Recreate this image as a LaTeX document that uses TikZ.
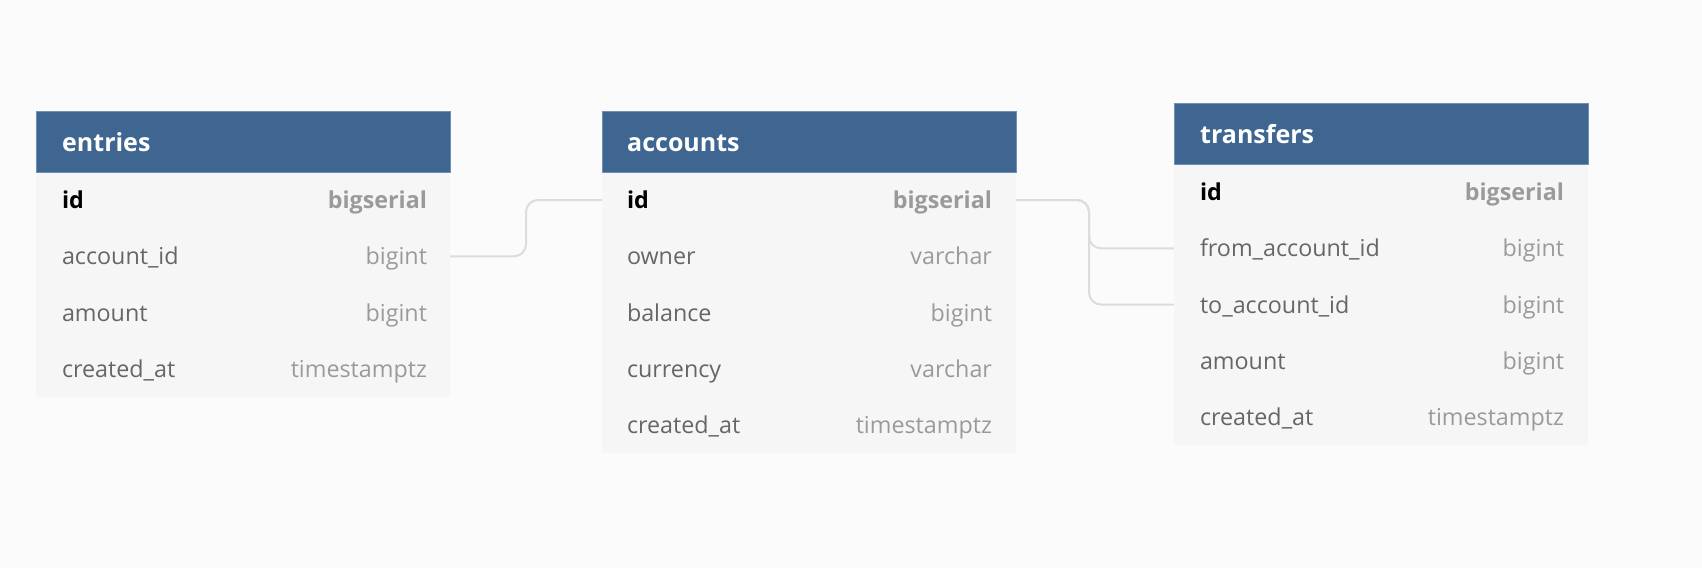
\documentclass[tikz,border=0pt]{standalone}
\usepackage{fontspec}
\setmainfont{Open Sans}
\definecolor{bgc}{HTML}{FBFBFB}
\definecolor{hdr}{HTML}{3E6690}
\definecolor{hdrline}{HTML}{6F8FB3}
\definecolor{body}{HTML}{F6F6F6}
\definecolor{fnc}{HTML}{666666}
\definecolor{tyc}{HTML}{9A9A9A}
\definecolor{conc}{HTML}{DCDCDC}
\tikzset{
  hdrbox/.style={fill=hdr, draw=hdrline, line width=0.8pt},
  bodybox/.style={fill=body, draw=none},
  rowbox/.style={minimum width=414pt, minimum height=56pt, inner sep=0pt, draw=none},
  title/.style={anchor=mid west, inner sep=0pt, yshift=-7pt, text=white, font=\fontsize{25}{30}\selectfont\bfseries},
  fname/.style={anchor=mid west, inner sep=0pt, yshift=-6pt, text=fnc, font=\fontsize{23.3}{28}\selectfont},
  ftype/.style={anchor=mid east, inner sep=0pt, yshift=-6pt, text=tyc, font=\fontsize{23.3}{28}\selectfont},
  pkname/.style={fname, text=black, font=\fontsize{23.3}{28}\selectfont\bfseries},
  pktype/.style={ftype, font=\fontsize{23.3}{28}\selectfont\bfseries},
  conn/.style={draw=conc, line width=2pt, rounded corners=12pt},
}
\begin{document}
\begin{tikzpicture}[x=1pt,y=-1pt]
\fill[bgc] (0,0) rectangle (1702,568);
\useasboundingbox (0,0) rectangle (1702,568);

% ---- entries ----
\fill[bodybox] (36,172) rectangle (450,397);
\draw[hdrbox] (36,111) rectangle (450,172);
\node[title] (et) at (62,141.5) {entries};
\node[rowbox] (e1) at (243,200) {};
\node[rowbox] (e2) at (243,256.3) {};
\node[rowbox] (e3) at (243,312.6) {};
\node[rowbox] (e4) at (243,368.9) {};
\node[pkname] (e1n) at ([xshift=26pt]e1.west) {id};
\node[pktype] (e1t) at ([xshift=-23pt]e1.east) {bigserial};
\node[fname] (e2n) at ([xshift=26pt]e2.west) {account\_id};
\node[ftype] (e2t) at ([xshift=-23pt]e2.east) {bigint};
\node[fname] (e3n) at ([xshift=26pt]e3.west) {amount};
\node[ftype] (e3t) at ([xshift=-23pt]e3.east) {bigint};
\node[fname] (e4n) at ([xshift=26pt]e4.west) {created\_at};
\node[ftype] (e4t) at ([xshift=-23pt]e4.east) {timestamptz};

% ---- accounts ----
\fill[bodybox] (602,172) rectangle (1016,453);
\draw[hdrbox] (602,111) rectangle (1016,172);
\node[title] (at) at (627,141.5) {accounts};
\node[rowbox] (a1) at (809,200) {};
\node[rowbox] (a2) at (809,256.3) {};
\node[rowbox] (a3) at (809,312.6) {};
\node[rowbox] (a4) at (809,368.9) {};
\node[rowbox] (a5) at (809,425.2) {};
\node[pkname] (a1n) at ([xshift=25pt]a1.west) {id};
\node[pktype] (a1t) at ([xshift=-24pt]a1.east) {bigserial};
\node[fname] (a2n) at ([xshift=25pt]a2.west) {owner};
\node[ftype] (a2t) at ([xshift=-24pt]a2.east) {varchar};
\node[fname] (a3n) at ([xshift=25pt]a3.west) {balance};
\node[ftype] (a3t) at ([xshift=-24pt]a3.east) {bigint};
\node[fname] (a4n) at ([xshift=25pt]a4.west) {currency};
\node[ftype] (a4t) at ([xshift=-24pt]a4.east) {varchar};
\node[fname] (a5n) at ([xshift=25pt]a5.west) {created\_at};
\node[ftype] (a5t) at ([xshift=-24pt]a5.east) {timestamptz};

% ---- transfers ----
\fill[bodybox] (1174,164) rectangle (1588,445);
\draw[hdrbox] (1174,103) rectangle (1588,164);
\node[title] (tt) at (1200,133.5) {transfers};
\node[rowbox] (t1) at (1381,192) {};
\node[rowbox] (t2) at (1381,248.3) {};
\node[rowbox] (t3) at (1381,304.6) {};
\node[rowbox] (t4) at (1381,360.9) {};
\node[rowbox] (t5) at (1381,417.2) {};
\node[pkname] (t1n) at ([xshift=26pt]t1.west) {id};
\node[pktype] (t1t) at ([xshift=-24pt]t1.east) {bigserial};
\node[fname] (t2n) at ([xshift=26pt]t2.west) {from\_account\_id};
\node[ftype] (t2t) at ([xshift=-24pt]t2.east) {bigint};
\node[fname] (t3n) at ([xshift=26pt]t3.west) {to\_account\_id};
\node[ftype] (t3t) at ([xshift=-24pt]t3.east) {bigint};
\node[fname] (t4n) at ([xshift=26pt]t4.west) {amount};
\node[ftype] (t4t) at ([xshift=-24pt]t4.east) {bigint};
\node[fname] (t5n) at ([xshift=26pt]t5.west) {created\_at};
\node[ftype] (t5t) at ([xshift=-24pt]t5.east) {timestamptz};

% ---- connectors ----
\coordinate (cx1) at (526,0);
\coordinate (cx2) at (1089,0);
\draw[conn] (e2.east) -| (cx1 |- a1.west) -- (a1.west);
\draw[conn] (a1.east) -| (cx2 |- t2.west) -- (t2.west);
\draw[conn] (a1.east) -| (cx2 |- t3.west) -- (t3.west);
\end{tikzpicture}
\end{document}
